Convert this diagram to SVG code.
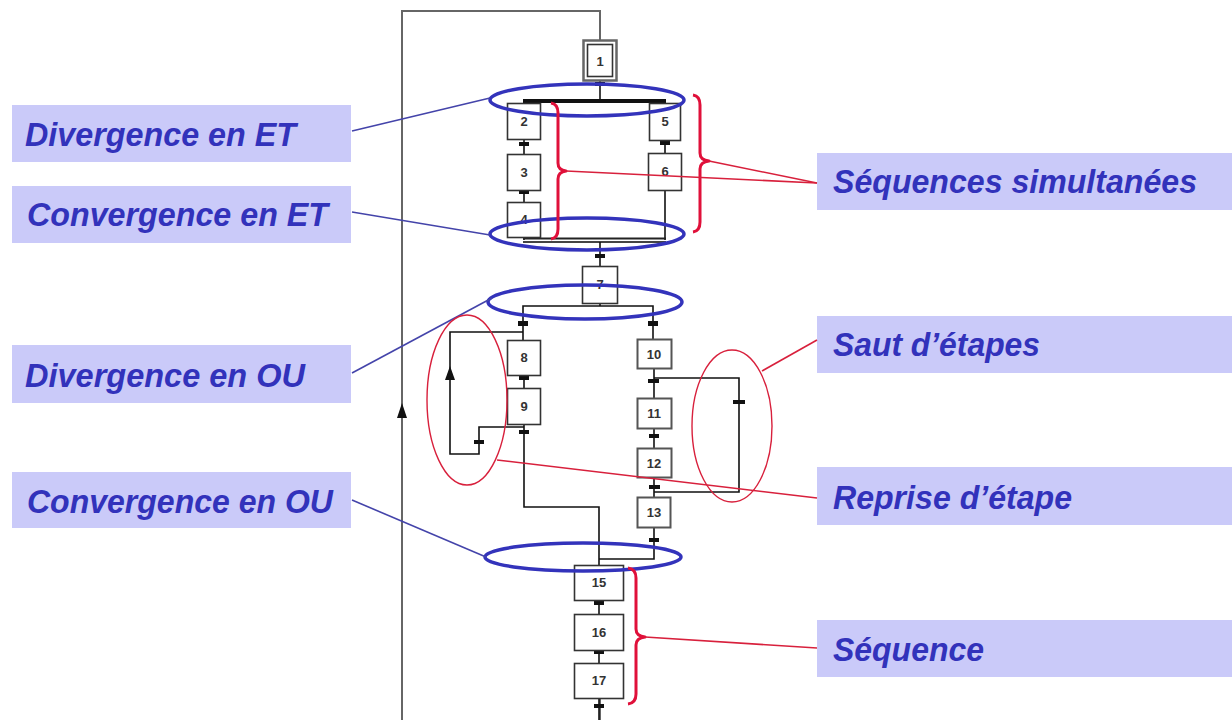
<svg xmlns="http://www.w3.org/2000/svg" width="1232" height="720" viewBox="0 0 1232 720">
<style>
.lbl rect{fill:#cacaf9}
.lbl text{font-family:"Liberation Sans",Arial,sans-serif;font-weight:bold;font-style:italic;font-size:34px;fill:#3232bb}
.step rect{fill:#fff;stroke:#333;stroke-width:1.6}
.step text{font-family:"Liberation Sans",Arial,sans-serif;font-weight:bold;font-size:13px;fill:#333;text-anchor:middle}
.ln{fill:none;stroke:#111;stroke-width:1.6}
.loop{fill:none;stroke:#666;stroke-width:2}
.tick{fill:#111}
.bell{fill:none;stroke:#3333bb;stroke-width:3.5}
.bld{fill:none;stroke:#4444aa;stroke-width:1.6}
.rell{fill:none;stroke:#d8203c;stroke-width:1.4}
.rld{fill:none;stroke:#d8203c;stroke-width:1.6}
.brace{fill:none;stroke:#e0103a;stroke-width:3;stroke-linejoin:round}
</style>
<rect width="1232" height="720" fill="#fff"/>

<g id="labels">
<g id="lbl-div-et" class="lbl"><rect x="12" y="105" width="339" height="57"/><text x="25" y="146" textLength="271" lengthAdjust="spacingAndGlyphs">Divergence en ET</text></g>
<g id="lbl-conv-et" class="lbl"><rect x="12" y="186" width="339" height="57"/><text x="27" y="226" textLength="301" lengthAdjust="spacingAndGlyphs">Convergence en ET</text></g>
<g id="lbl-div-ou" class="lbl"><rect x="12" y="345" width="339" height="58"/><text x="25" y="387" textLength="280" lengthAdjust="spacingAndGlyphs">Divergence en OU</text></g>
<g id="lbl-conv-ou" class="lbl"><rect x="12" y="472" width="339" height="56"/><text x="27" y="513" textLength="306" lengthAdjust="spacingAndGlyphs">Convergence en OU</text></g>
<g id="lbl-seq-sim" class="lbl"><rect x="817" y="153" width="415" height="57"/><text x="833" y="193" textLength="364" lengthAdjust="spacingAndGlyphs">Séquences simultanées</text></g>
<g id="lbl-saut" class="lbl"><rect x="817" y="316" width="415" height="57"/><text x="833" y="356" textLength="207" lengthAdjust="spacingAndGlyphs">Saut d’étapes</text></g>
<g id="lbl-reprise" class="lbl"><rect x="817" y="467" width="415" height="58"/><text x="833" y="509" textLength="239" lengthAdjust="spacingAndGlyphs">Reprise d’étape</text></g>
<g id="lbl-seq" class="lbl"><rect x="817" y="620" width="415" height="57"/><text x="833" y="661" textLength="151" lengthAdjust="spacingAndGlyphs">Séquence</text></g>
</g>

<g id="connectors">
<polyline class="loop" points="600,40 600,11 402,11 402,722 600,722 600,698"/>
<polygon points="402,403 397,418 407,418" fill="#111"/>
<line class="ln" x1="600" y1="81" x2="600" y2="100"/>
<rect x="523" y="99" width="143" height="4" fill="#111"/>
<line class="ln" x1="524" y1="139" x2="524" y2="154"/>
<line class="ln" x1="524" y1="190" x2="524" y2="202"/>
<line class="ln" x1="524" y1="237" x2="524" y2="240"/>
<line class="ln" x1="665" y1="140" x2="665" y2="153"/>
<line class="ln" x1="665" y1="190" x2="665" y2="240"/>
<line x1="523" y1="238.5" x2="666" y2="238.5" stroke="#222" stroke-width="2"/>
<line x1="523" y1="242" x2="666" y2="242" stroke="#444" stroke-width="2"/>
<line class="ln" x1="600" y1="242" x2="600" y2="266"/>
<line class="ln" x1="600" y1="303" x2="600" y2="306"/>
<polyline class="ln" points="523,340 523,306 653,306 653,339"/>
<line class="ln" x1="524" y1="375" x2="524" y2="388"/>
<polyline class="ln" points="523,332 450,332 450,454 479,454 479,427 524,427"/>
<polygon points="450,366 445,380 455,380" fill="#111"/>
<polyline class="ln" points="524,424 524,507 599,507 599,565"/>
<line class="ln" x1="654" y1="368" x2="654" y2="398"/>
<line class="ln" x1="654" y1="428" x2="654" y2="448"/>
<line class="ln" x1="654" y1="477" x2="654" y2="497"/>
<polyline class="ln" points="654,378 739,378 739,492 654,492"/>
<polyline class="ln" points="654,527 654,559 599,559"/>
<line class="ln" x1="599" y1="600" x2="599" y2="614"/>
<line class="ln" x1="599" y1="650" x2="599" y2="663"/>
<rect class="tick" x="595" y="82" width="10" height="4"/>
<rect class="tick" x="519" y="142" width="10" height="4"/>
<rect class="tick" x="519" y="190" width="10" height="4"/>
<rect class="tick" x="660" y="141" width="10" height="4"/>
<rect class="tick" x="595" y="254" width="10" height="4"/>
<rect class="tick" x="518" y="321" width="10" height="5"/>
<rect class="tick" x="648" y="321" width="10" height="5"/>
<rect class="tick" x="519" y="376" width="10" height="4"/>
<rect class="tick" x="519" y="430" width="10" height="4"/>
<rect class="tick" x="474" y="440" width="10" height="4"/>
<rect class="tick" x="648" y="379" width="11" height="4"/>
<rect class="tick" x="733" y="400" width="12" height="4"/>
<rect class="tick" x="649" y="434" width="10" height="4"/>
<rect class="tick" x="649" y="485" width="11" height="4"/>
<rect class="tick" x="649" y="538" width="10" height="4"/>
<rect class="tick" x="594" y="601" width="10" height="4"/>
<rect class="tick" x="594" y="650" width="10" height="4"/>
<rect class="tick" x="594" y="704" width="10" height="4"/>
<line class="ln" x1="599" y1="698" x2="599" y2="720"/>
</g>

<g id="steps">
<g id="step1" class="step"><rect x="583.5" y="40.5" width="33" height="40" style="stroke:#666;stroke-width:2.5"/><rect x="587.5" y="44.5" width="25" height="32"/><text x="600" y="66">1</text></g>
<g id="step2" class="step"><rect x="507.5" y="103.5" width="33" height="36"/><text x="524" y="126">2</text></g>
<g id="step3" class="step"><rect x="507.5" y="154.5" width="33" height="36"/><text x="524" y="177">3</text></g>
<g id="step4" class="step"><rect x="507.5" y="202.5" width="33" height="35"/><text x="524" y="224">4</text></g>
<g id="step5" class="step"><rect x="649.5" y="103.5" width="31" height="37"/><text x="665" y="126">5</text></g>
<g id="step6" class="step"><rect x="648.5" y="153.5" width="33" height="37"/><text x="665" y="176">6</text></g>
<g id="step7" class="step"><rect x="582.5" y="266.5" width="35" height="37"/><text x="600" y="289">7</text></g>
<g id="step8" class="step"><rect x="507.5" y="340.5" width="33" height="35"/><text x="524" y="362">8</text></g>
<g id="step9" class="step"><rect x="507.5" y="388.5" width="33" height="36"/><text x="524" y="411">9</text></g>
<g id="step10" class="step"><rect x="637.5" y="339.5" width="34" height="29" style="stroke:#555;stroke-width:2"/><text x="654" y="359">10</text></g>
<g id="step11" class="step"><rect x="637.5" y="398.5" width="34" height="30" style="stroke:#555;stroke-width:2"/><text x="654" y="418">11</text></g>
<g id="step12" class="step"><rect x="637.5" y="448.5" width="34" height="29" style="stroke:#555;stroke-width:2"/><text x="654" y="468">12</text></g>
<g id="step13" class="step"><rect x="637.5" y="497.5" width="33" height="30" style="stroke:#555;stroke-width:2"/><text x="654" y="517">13</text></g>
<g id="step15" class="step"><rect x="574.5" y="565.5" width="49" height="35"/><text x="599" y="587">15</text></g>
<g id="step16" class="step"><rect x="574.5" y="614.5" width="49" height="36"/><text x="599" y="637">16</text></g>
<g id="step17" class="step"><rect x="574.5" y="663.5" width="49" height="35"/><text x="599" y="685">17</text></g>
</g>

<g id="annotations">
<ellipse class="bell" cx="587" cy="100" rx="97" ry="16"/>
<ellipse class="bell" cx="587" cy="234" rx="97" ry="16"/>
<ellipse class="bell" cx="585" cy="302" rx="97" ry="17"/>
<ellipse class="bell" cx="583" cy="557" rx="98" ry="14"/>
<line class="bld" x1="352" y1="131" x2="490" y2="98"/>
<line class="bld" x1="352" y1="212" x2="490" y2="235"/>
<line class="bld" x1="352" y1="373" x2="492" y2="298"/>
<line class="bld" x1="352" y1="500" x2="486" y2="557"/>
<ellipse class="rell" cx="467" cy="400" rx="40" ry="85"/>
<ellipse class="rell" cx="732" cy="426" rx="40" ry="76"/>
<line class="rld" x1="762" y1="371" x2="817" y2="340"/>
<line class="rld" x1="497" y1="460" x2="817" y2="498"/>
<path class="brace" d="M551,103 Q558,104 558,113 L558,163 Q558,170 566,171 Q558,172 558,179 L558,229 Q558,238 551,239"/>
<path class="brace" d="M693,95 Q700,96 700,105 L700,153 Q700,160 709,161 Q700,162 700,169 L700,222 Q700,231 693,232"/>
<path class="brace" d="M628,568 Q636,569 636,578 L636,629 Q636,636 645,637 Q636,638 636,645 L636,694 Q636,703 628,704"/>
<line class="rld" x1="566" y1="171" x2="817" y2="183"/>
<line class="rld" x1="709" y1="161" x2="817" y2="183"/>
<line class="rld" x1="645" y1="637" x2="817" y2="648"/>
</g>
</svg>
